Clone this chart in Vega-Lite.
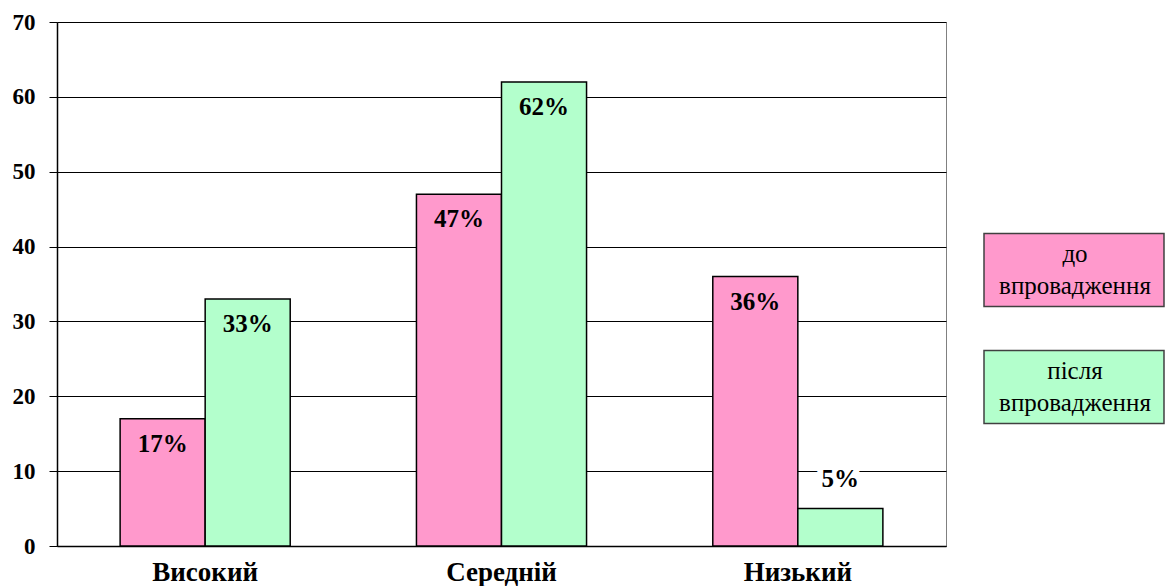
{
  "$schema": "https://vega.github.io/schema/vega-lite/v6.json",
  "width": 889,
  "height": 524,
  "autosize": {"type": "none"},
  "padding": {"left": 57, "top": 22, "right": 220, "bottom": 40},
  "background": "white",
  "config": {
    "font": "Liberation Serif",
    "view": {"stroke": "#808080", "strokeWidth": 1}
  },
  "data": {
    "values": [
      {"category": "Високий", "series": "до впровадження", "value": 17, "label": "17%"},
      {"category": "Високий", "series": "після впровадження", "value": 33, "label": "33%"},
      {"category": "Середній", "series": "до впровадження", "value": 47, "label": "47%"},
      {"category": "Середній", "series": "після впровадження", "value": 62, "label": "62%"},
      {"category": "Низький", "series": "до впровадження", "value": 36, "label": "36%"},
      {"category": "Низький", "series": "після впровадження", "value": 5, "label": "5%"}
    ]
  },
  "encoding": {
    "x": {
      "field": "category",
      "type": "nominal",
      "sort": ["Високий", "Середній", "Низький"],
      "scale": {"paddingInner": 0.426, "paddingOuter": 0.213},
      "axis": {
        "title": null,
        "labelAngle": 0,
        "labelFont": "Liberation Serif",
        "labelFontSize": 27,
        "labelFontWeight": "bold",
        "labelColor": "black",
        "labelPadding": 13,
        "ticks": false,
        "domainColor": "black",
        "domainWidth": 1.5,
        "grid": false
      }
    },
    "xOffset": {
      "field": "series",
      "type": "nominal",
      "sort": ["до впровадження", "після впровадження"],
      "scale": {"paddingInner": 0, "paddingOuter": 0}
    },
    "y": {
      "field": "value",
      "type": "quantitative",
      "scale": {"domain": [0, 70], "nice": false},
      "axis": {
        "title": null,
        "values": [0, 10, 20, 30, 40, 50, 60, 70],
        "labelFont": "Liberation Serif",
        "labelFontSize": 23,
        "labelFontWeight": "bold",
        "labelColor": "black",
        "labelPadding": 14,
        "tickSize": 8,
        "tickColor": "black",
        "domainColor": "black",
        "domainWidth": 1.5,
        "grid": true,
        "gridColor": "black",
        "gridWidth": 1,
        "gridOpacity": 1
      }
    }
  },
  "layer": [
    {
      "mark": {"type": "bar", "stroke": "black", "strokeWidth": 1.5, "opacity": 1},
      "encoding": {
        "color": {
          "field": "series",
          "type": "nominal",
          "sort": ["до впровадження", "після впровадження"],
          "scale": {"domain": ["до впровадження", "після впровадження"], "range": ["#FF99CC", "#B3FFCC"]},
          "legend": {
            "orient": "none",
            "legendX": 946,
            "legendY": 177,
            "title": null,
            "symbolType": "M-1.2857,-0.5214H1.2857V0.5214H-1.2857Z",
            "symbolSize": 19600,
            "symbolStrokeColor": "#404040",
            "symbolStrokeWidth": 1.5,
            "symbolOpacity": 1,
            "labelAlign": "center",
            "labelBaseline": "middle",
            "labelOffset": -70,
            "labelFont": "Liberation Serif",
            "labelFontSize": 25,
            "labelFontWeight": "normal",
            "labelColor": "black",
            "labelLimit": 0,
            "rowPadding": 6,
            "labelExpr": "datum.label == 'до впровадження' ? ['до', 'впровадження'] : ['після', 'впровадження']",
            "encode": {"labels": {"update": {"lineHeight": {"value": 32}, "dy": {"value": -16}, "font": {"value": "Liberation Serif"}, "fontSize": {"value": 25}, "fontWeight": {"value": 400}}}}
          }
        }
      }
    },
    {
      "transform": [{"filter": "datum.value >= 10"}],
      "mark": {"type": "text", "dy": 25, "baseline": "middle", "align": "center", "font": "Liberation Serif", "fontSize": 25, "fontWeight": "bold", "color": "black"},
      "encoding": {"text": {"field": "label"}}
    },
    {
      "transform": [{"filter": "datum.value < 10"}],
      "mark": {"type": "text", "dy": -30, "baseline": "middle", "align": "center", "font": "Liberation Serif", "fontSize": 25, "fontWeight": "bold", "color": "white", "stroke": "white", "strokeWidth": 12, "strokeJoin": "round"},
      "encoding": {"text": {"field": "label"}}
    },
    {
      "transform": [{"filter": "datum.value < 10"}],
      "mark": {"type": "text", "dy": -30, "baseline": "middle", "align": "center", "font": "Liberation Serif", "fontSize": 25, "fontWeight": "bold", "color": "black"},
      "encoding": {"text": {"field": "label"}}
    }
  ]
}
